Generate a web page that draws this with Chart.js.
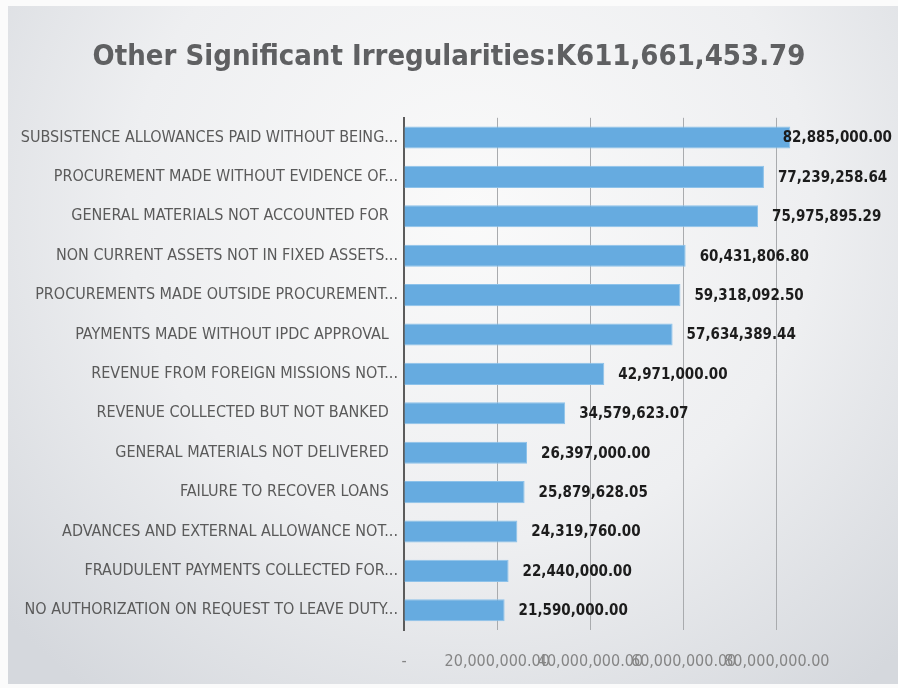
<!DOCTYPE html>
<html>
<head>
<meta charset="utf-8">
<script src="https://cdn.jsdelivr.net/npm/chart.js@4"></script>
<style>
  html, body { margin: 0; padding: 0; background: #fbfbfb; }
  body { width: 898px; height: 688px; position: relative; overflow: hidden; }
  #bg {
    position: absolute; left: 8px; top: 6px; right: 0; bottom: 4px;
    background: radial-gradient(ellipse 70% 90% at 52% 30%, #fafafa 0%, #eeeff1 55%, #d5d8dd 100%);
  }
  #wrap { position: absolute; left: 0; top: 0; width: 898px; height: 688px; }
</style>
</head>
<body>
<div id="bg"></div>
<div id="wrap"><canvas id="irregChart" width="898" height="688"></canvas></div>
<script>
const FONT = "'Liberation Sans Narrow', 'DejaVu Sans Condensed', 'Liberation Sans', sans-serif";

const categories = [
  'SUBSISTENCE ALLOWANCES PAID WITHOUT BEING...',
  'PROCUREMENT MADE WITHOUT EVIDENCE OF...',
  'GENERAL MATERIALS NOT ACCOUNTED FOR  ',
  'NON CURRENT ASSETS NOT IN FIXED ASSETS...',
  'PROCUREMENTS MADE OUTSIDE PROCUREMENT...',
  'PAYMENTS MADE WITHOUT IPDC APPROVAL  ',
  'REVENUE FROM FOREIGN MISSIONS NOT...',
  'REVENUE COLLECTED BUT NOT BANKED  ',
  'GENERAL MATERIALS NOT DELIVERED  ',
  'FAILURE TO RECOVER LOANS  ',
  'ADVANCES AND EXTERNAL ALLOWANCE NOT...',
  'FRAUDULENT PAYMENTS COLLECTED FOR...',
  'NO AUTHORIZATION ON REQUEST TO LEAVE DUTY...'
];

const amounts = [
  82885000.00, 77239258.64, 75975895.29, 60431806.80, 59318092.50, 57634389.44,
  42971000.00, 34579623.07, 26397000.00, 25879628.05, 24319760.00, 22440000.00, 21590000.00
];

const xTickValues = [0, 20000000, 40000000, 60000000, 80000000];
const xMax = 106000000;

function money(v) {
  return v.toLocaleString('en-US', { minimumFractionDigits: 2, maximumFractionDigits: 2 });
}

// value labels to the right of each bar, kept inside the canvas
const barLabels = {
  id: 'barLabels',
  afterDatasetsDraw(chart) {
    const { ctx } = chart;
    const meta = chart.getDatasetMeta(0);
    ctx.save();
    ctx.font = 'bold 15px ' + FONT;
    ctx.fillStyle = '#1c1c1c';
    ctx.textBaseline = 'middle';
    ctx.textAlign = 'left';
    meta.data.forEach((bar, i) => {
      const txt = money(amounts[i]);
      const w = ctx.measureText(txt).width;
      let x = bar.x + 14;
      if (x + w > chart.width - 6) x = chart.width - 6 - w;
      ctx.fillText(txt, x, bar.y + 1);
    });
    ctx.restore();
  }
};

new Chart(document.getElementById('irregChart'), {
  type: 'bar',
  data: {
    labels: categories,
    datasets: [{
      data: amounts,
      backgroundColor: '#66abe0',
      borderColor: '#8dc2ea',
      borderWidth: 1,
      barPercentage: 0.56,
      categoryPercentage: 1
    }]
  },
  plugins: [barLabels],
  options: {
    indexAxis: 'y',
    responsive: false,
    animation: false,
    layout: { padding: 0 },
    plugins: {
      legend: { display: false },
      tooltip: { enabled: false },
      title: {
        display: true,
        text: 'Other Significant Irregularities:K611,661,453.79',
        color: '#5f6062',
        font: { family: FONT, size: 29, weight: 'bold', lineHeight: 1.2 },
        padding: { top: 40, bottom: 43 }
      }
    },
    scales: {
      x: {
        min: 0,
        max: xMax,
        afterBuildTicks(scale) {
          scale.ticks = xTickValues.map(v => ({ value: v }));
        },
        afterFit(scale) { scale.height = 58; },
        ticks: {
          autoSkip: false,
          maxRotation: 0,
          color: '#858585',
          padding: 22,
          font: { family: FONT, size: 16 },
          callback: v => (v === 0 ? '-' : money(v))
        },
        grid: {
          color: ctx => (ctx.tick && ctx.tick.value === 0 ? 'rgba(0,0,0,0)' : '#a9abae'),
          lineWidth: 1,
          drawTicks: false
        },
        border: { display: false }
      },
      y: {
        afterFit(scale) { scale.width = 404; },
        ticks: {
          autoSkip: false,
          color: '#5a5a5a',
          padding: 6,
          font: { family: FONT, size: 16 }
        },
        grid: { display: false, drawTicks: false },
        border: { display: true, color: '#5b5b5b', width: 2 }
      }
    }
  }
});
</script>
</body>
</html>
